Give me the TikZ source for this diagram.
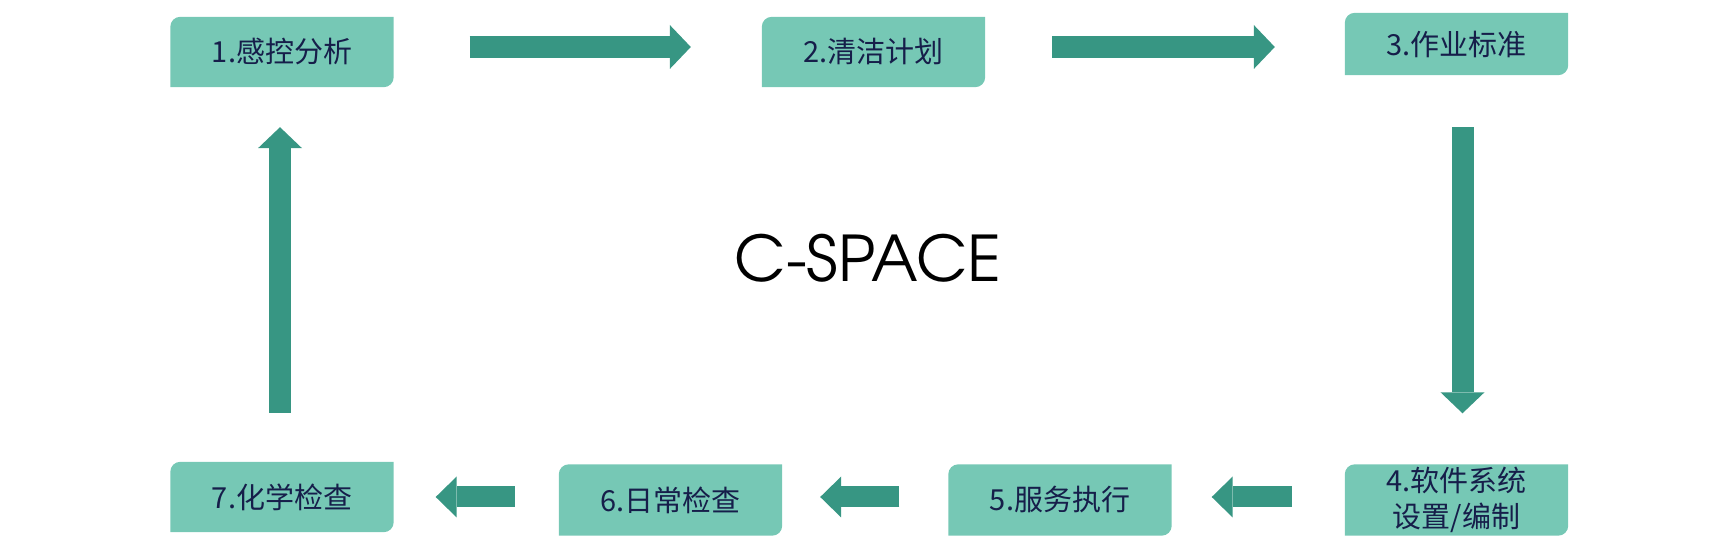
\documentclass[tikz,border=0pt]{standalone}
\usepackage{fontspec}
\newfontfamily\cjk{Noto Sans CJK SC}
\newfontfamily\logofont{texgyreadventor-regular.otf}
\usetikzlibrary{arrows.meta,backgrounds,calc}
\definecolor{tagfill}{RGB}{118,200,181}
\definecolor{flowgreen}{RGB}{55,150,131}
\definecolor{ink}{RGB}{22,30,74}
\tikzset{
	tag/.style={minimum width=223pt, minimum height=70pt, inner sep=0pt, text=ink, align=center, font=\cjk\fontsize{29}{36}\selectfont},
	flow/.style={draw=flowgreen, line width=22pt, -{Triangle[length=21pt, width=44pt, line width=0pt]}},
	backflow/.style={flow, line width=21pt, -{Triangle[length=21pt, width=41pt, line width=0pt]}},
}
\begin{document}
\begin{tikzpicture}[x=1pt,y=1pt]
			\useasboundingbox (0,0) rectangle (1726,548);
			\node[tag] (b1) at (282,496) {1.感控分析};
			\node[tag] (b2) at (873.5,496) {2.清洁计划};
			\node[tag, minimum height=62pt] (b3) at (1456.5,504) {3.作业标准};
			\node[tag, minimum height=71pt] (b4) at (1456.5,48) {4.软件系统\\设置/编制};
			\node[tag, minimum height=71pt] (b5) at (1060,48) {5.服务执行};
			\node[tag, minimum height=71pt] (b6) at (670.5,48) {6.日常检查};
			\node[tag] (b7) at (282,51) {7.化学检查};
			\node[inner sep=0pt, font=\logofont\fontsize{63}{63}\selectfont] (title) at (868,289.5) {C-SPACE};
			\begin{scope}[on background layer]
				\foreach \n in {b1,b2,b3,b4,b5,b6,b7}
					\fill[tagfill] (\n.south west) -- ([yshift=-10pt]\n.north west) arc[start angle=180, end angle=90, radius=10pt] -- (\n.north east) -- ([yshift=10pt]\n.south east) arc[start angle=0, end angle=-90, radius=10pt] -- cycle;
			\end{scope}
			\draw[flow, shorten <=76pt, shorten >=71pt] ($(b1.east)+(0,5)$) -- ($(b2.west)+(0,5)$);
			\draw[flow, shorten <=67pt, shorten >=70pt] ($(b2.east)+(0,5)$) -- ($(b2.east -| b3.west)+(0,5)$);
			\draw[flow, shorten <=52pt, shorten >=51pt] ($(b3.south)+(6,0)$) -- ($(b4.north)+(6,0)$);
			\draw[backflow, shorten <=53pt, shorten >=40pt] ($(b4.west)+(0,3)$) -- ($(b5.east)+(0,3)$);
			\draw[backflow, shorten <=49pt, shorten >=38pt] ($(b5.west)+(0,3)$) -- ($(b6.east)+(0,3)$);
			\draw[backflow, shorten <=44pt, shorten >=42pt] ($(b6.west)+(0,3)$) -- ($(b6.west -| b7.east)+(0,3)$);
			\draw[flow, shorten <=49pt, shorten >=40pt] ($(b7.north)+(-2,0)$) -- ($(b1.south)+(-2,0)$);
		\end{tikzpicture}
\end{document}
